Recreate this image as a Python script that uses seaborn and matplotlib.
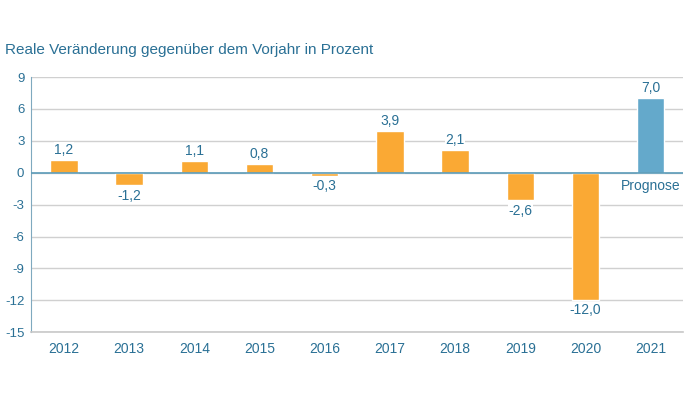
import matplotlib
matplotlib.use("Agg")
import matplotlib.pyplot as plt
import seaborn as sns
import pandas as pd

years = ["2012", "2013", "2014", "2015", "2016", "2017", "2018", "2019", "2020", "2021"]
values = [1.2, -1.2, 1.1, 0.8, -0.3, 3.9, 2.1, -2.6, -12.0, 7.0]
kind = ["Ist"] * 9 + ["Prognose"]
labels = ["1,2", "-1,2", "1,1", "0,8", "-0,3", "3,9", "2,1", "-2,6", "-12,0", "7,0"]
yticks = [9, 6, 3, 0, -3, -6, -9, -12, -15]

df = pd.DataFrame({"Jahr": years, "Wert": values, "Art": kind})

sns.set_style("white")
plt.rcParams["font.family"] = ["Liberation Sans", "DejaVu Sans"]

text_col = "#2a7095"
fig = plt.figure(figsize=(6.95, 3.95), dpi=100)
ax = fig.add_axes([0.045, 0.159, 0.938, 0.646])

sns.barplot(data=df, x="Jahr", y="Wert", hue="Art",
            palette={"Ist": "#FAA934", "Prognose": "#64A9CB"}, saturation=1,
            width=0.42, dodge=False, legend=False, ax=ax, zorder=3)

ax.set_ylim(-15, 9)
ax.set_xlim(-0.5, 9.5)
ax.set_yticks(yticks)
ax.set_yticklabels([str(t) for t in yticks])
ax.grid(axis="y", color="#d0d0d0", linewidth=1, zorder=0)
ax.axhline(0, color="#5b9bb8", linewidth=1.2, zorder=4)
for s in ["top", "right"]:
    ax.spines[s].set_visible(False)
ax.spines["left"].set_color("#7fa9bf")
ax.spines["bottom"].set_color("#c8c8c8")
ax.spines["bottom"].set_linewidth(1.2)
ax.set_xlabel("")
ax.set_ylabel("")
ax.tick_params(axis="y", length=2, color="#7fa9bf", labelsize=9.5, labelcolor=text_col, pad=3)
ax.tick_params(axis="x", length=0, labelsize=10, labelcolor=text_col, pad=7)

for i, (v, lab) in enumerate(zip(values, labels)):
    if v >= 0:
        ax.text(i, v + 0.3, lab, ha="center", va="bottom", fontsize=10, color=text_col,
                bbox=dict(facecolor="white", edgecolor="none", pad=0.5), zorder=5)
    else:
        ax.text(i, v - 0.3, lab, ha="center", va="top", fontsize=10, color=text_col,
                bbox=dict(facecolor="white", edgecolor="none", pad=0.5), zorder=5)

ax.text(9, -0.55, "Prognose", ha="center", va="top", fontsize=10, color=text_col, zorder=5)

fig.text(0.007, 0.873, "Reale Veränderung gegenüber dem Vorjahr in Prozent",
         fontsize=11, color=text_col, ha="left", va="center")

fig.savefig("out.png", dpi=100)
